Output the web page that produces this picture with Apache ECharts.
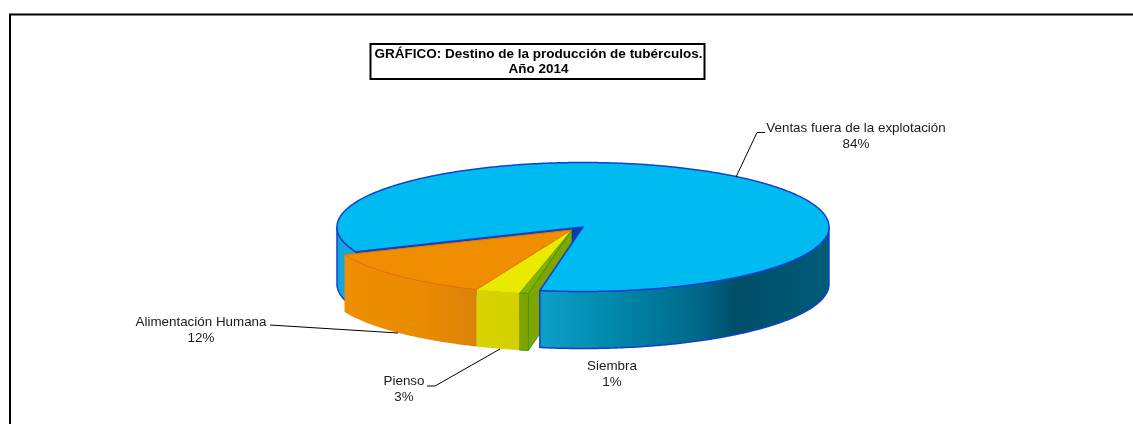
<!DOCTYPE html>
<html><head><meta charset="utf-8">
<style>html,body{margin:0;padding:0;background:#fff}#c{width:1133px;height:424px}</style>
<script src="https://cdn.jsdelivr.net/npm/echarts@6/dist/echarts.min.js"></script>
</head><body><div id="c"></div>
<script>
// Data
const categories = ['Ventas fuera de la explotación', 'Siembra', 'Pienso', 'Alimentación Humana'];
const shares = [84.1, 0.6, 2.9, 12.4];
const titleText = 'GRÁFICO: Destino de la producción de tubérculos.\nAño 2014';

// Presentation
const CX = 583, CY = 227, RX = 246, RY = 64.5, DEPTH = 57, START = 67.34;
const EXPLODE = [[0, 0], [-11.5, 3], [-11.5, 3], [-11.5, 3]];
const FONT = '13.4px "Liberation Sans", Arial, sans-serif';
const sliceStyle = [
  {top:'#00bbf1', stroke:'#1240cc', sw:1.5, face:'#0f3aa8',
   wallBack:[[0,'#12a6dc'],[1,'#12a6dc']],
   wall:[[0,'#0e9fc9'],[0.25,'#0089ab'],[0.55,'#00688a'],[0.68,'#004e68'],[1,'#005c78']]},
  {top:'#84b000', stroke:'#3e9a12', sw:1, face:'#7fa600', wall:[[0,'#7fa600'],[1,'#7fa600']], wallStroke:'#3e9a12'},
  {top:'#eaea00', stroke:null, sw:0, face:'#eaea00', wall:[[0,'#d8d400'],[1,'#d2d000']]},
  {top:'#ee8e00', stroke:'#f07000', sw:1, face:'#ee8e00', wall:[[0,'#ee8e00'],[0.6,'#ea8b00'],[1,'#db820a']]}
];
const labelSpots = [
  {x:856, y:128.5, line:[[765,132.5],[757,132.5],[736,177]]},
  {x:612, y:366.5, line:null},
  {x:404, y:381.5, line:[[427,386],[435,386],[500,349]]},
  {x:201, y:322.5, line:[[270,325],[398,333]]}
];

function pt(t, ox, oy, dz) {
  const r = t * Math.PI / 180;
  return [CX + ox - RX * Math.sin(r), CY + oy + dz + RY * Math.cos(r)];
}
function arc(a, b, ox, oy, dz) {
  const out = [], n = Math.max(2, Math.ceil((b - a) * 2));
  for (let i = 0; i <= n; i++) out.push(pt(a + (b - a) * i / n, ox, oy, dz));
  return out;
}
function renderSlice(params, api) {
  const i = params.dataIndex;
  const total = shares.reduce((s, v) => s + v, 0);
  const before = shares.slice(0, i).reduce((s, v) => s + v, 0);
  const a = START + before / total * 360;
  const b = a + api.value(0) / total * 360;
  const [ox, oy] = EXPLODE[i];
  const st = sliceStyle[i];
  const kids = [];
  const c = [CX + ox, CY + oy];
  const front = i === 0 ? 3 : 4;

  // Side wall: only the parts of the rim facing the viewer
  const lo = Math.floor((a - 90) / 360);
  for (let k = lo - 1; k <= lo + 2; k++) {
    const s = Math.max(a, -90 + 360 * k), e = Math.min(b, 90 + 360 * k);
    if (e <= s) continue;
    const upper = arc(s, e, ox, oy, 0), lower = arc(s, e, ox, oy, DEPTH).reverse();
    const xs = upper.map(p => p[0]);
    const isBack = i === 0 && k === 0;      // piece of the main slice hidden behind the wedge
    const stops = isBack ? st.wallBack : st.wall;
    const fill = {type:'linear', x:Math.min(...xs), y:0, x2:Math.max(...xs), y2:0, global:true,
      colorStops: stops.map(w => ({offset:w[0], color:w[1]}))};
    const wallStroke = st.wallStroke || (i === 0 ? st.stroke : null);
    kids.push({type:'polygon', z2: isBack ? 1 : front,
      shape:{points: upper.concat(lower)},
      style:{fill, stroke: wallStroke, lineWidth: wallStroke ? st.sw : 0}});
  }
  // Cut face on the start edge, where it faces the viewer
  if (Math.sin(a * Math.PI / 180) > 0) {
    const p = pt(a, ox, oy, 0), q = pt(a, ox, oy, DEPTH);
    kids.push({type:'polygon', z2: 2 + (i === 1 ? 0.5 : 0),
      shape:{points:[c, p, q, [c[0], c[1] + DEPTH]]},
      style:{fill: st.face, stroke: i === 1 ? st.stroke : null, lineWidth: 1}});
  }
  // Top
  kids.push({type:'polygon', z2: front + 0.5,
    shape:{points:[c].concat(arc(a, b, ox, oy, 0))},
    style:{fill: st.top, stroke: st.stroke, lineWidth: st.sw, lineJoin:'round'}});

  // Label with leader
  const spot = labelSpots[i];
  const pct = Math.round(api.value(0) / total * 100) + '%';
  kids.push({type:'text', z2:10, style:{text:categories[i], x:spot.x, y:spot.y, align:'center', verticalAlign:'middle', font:FONT, fill:'#1a1a1a'}});
  kids.push({type:'text', z2:10, style:{text:pct, x:spot.x, y:spot.y + 16, align:'center', verticalAlign:'middle', font:FONT, fill:'#1a1a1a'}});
  if (spot.line) kids.push({type:'polyline', z2:10, shape:{points:spot.line}, style:{fill:null, stroke:'#000', lineWidth:1}});
  return {type:'group', children:kids};
}

const chart = echarts.init(document.getElementById('c'), null, {renderer:'canvas'});
chart.setOption({
  animation:false,
  backgroundColor:'#fff',
  title:{text:titleText, left:534.5, top:44, textAlign:'center', padding:[3,2,2,4], borderColor:'#000', borderWidth:2, backgroundColor:'#fff',
    textStyle:{fontFamily:'"Liberation Sans", Arial, sans-serif', fontWeight:'bold', fontSize:13.5, lineHeight:15, color:'#000'}},
  graphic:[
    {type:'polyline', silent:true, shape:{points:[[10,424],[10,14.5],[1133,14.5]]}, style:{fill:null, stroke:'#000', lineWidth:2}}
  ],
  series:[{type:'custom', coordinateSystem:'none', silent:true, renderItem:renderSlice,
    data: categories.map((n, i) => ({name:n, value:[shares[i]]}))}]
});
</script></body></html>
